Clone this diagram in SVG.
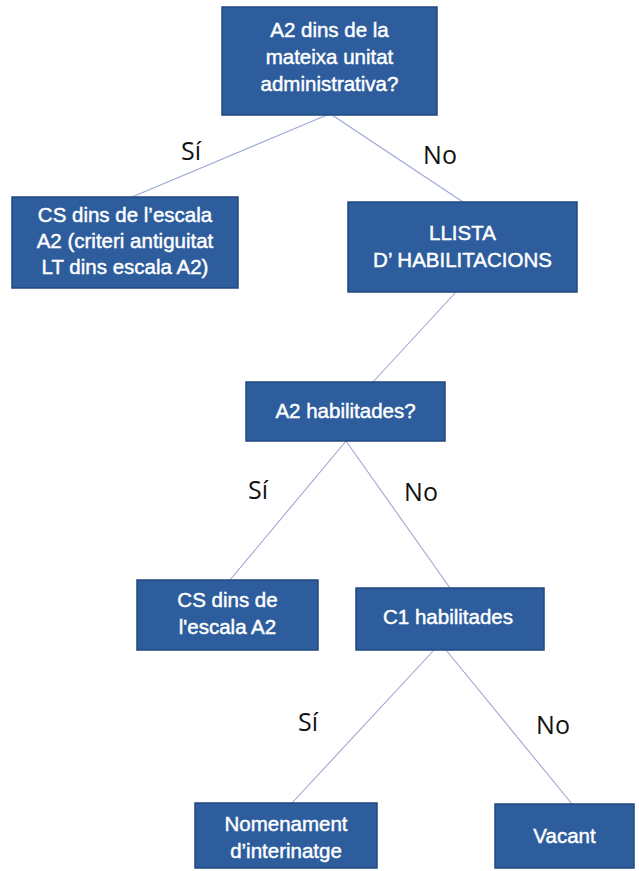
<svg xmlns="http://www.w3.org/2000/svg" width="639" height="871" viewBox="0 0 639 871">
<style>
.box{fill:#2d5d9d;stroke:#21487f;stroke-width:1.5}
.t{fill:#ffffff;stroke:#ffffff;stroke-width:0.45;font-family:"Liberation Sans",Arial,sans-serif;font-size:20.5px;text-anchor:middle}
.lbl{fill:#111111;font-family:"Open Sans","Liberation Sans",sans-serif;font-size:25px;text-anchor:middle}
.c{stroke:#9aa8d2;stroke-width:1.1;fill:none}
</style>
<rect width="639" height="871" fill="#ffffff"/>
<g id="connectors">
<line class="c" x1="327" y1="115" x2="132" y2="197"/>
<line class="c" x1="332" y1="115" x2="463" y2="202"/>
<line class="c" x1="456" y1="292" x2="373" y2="382"/>
<line class="c" x1="346" y1="441" x2="230" y2="580"/>
<line class="c" x1="346" y1="441" x2="450" y2="588"/>
<line class="c" x1="434" y1="650" x2="292" y2="803"/>
<line class="c" x1="446" y1="650" x2="572" y2="804"/>
</g>
<g id="labels">
<text class="lbl" x="191" y="160">Sí</text>
<text class="lbl" x="440" y="164">No</text>
<text class="lbl" x="258" y="499">Sí</text>
<text class="lbl" x="421" y="501">No</text>
<text class="lbl" x="308" y="731">Sí</text>
<text class="lbl" x="553" y="734">No</text>
</g>
<g id="n1">
<rect class="box" x="222" y="7" width="215" height="108"/>
<text class="t" x="329.5" y="37">A2 dins de la</text>
<text class="t" x="329.5" y="64">mateixa unitat</text>
<text class="t" x="329.5" y="91">administrativa?</text>
</g>
<g id="n2">
<rect class="box" x="12" y="197" width="226" height="91"/>
<text class="t" x="125" y="222">CS dins de l’escala</text>
<text class="t" x="125" y="248">A2 (criteri antiguitat</text>
<text class="t" x="125" y="274">LT dins escala A2)</text>
</g>
<g id="n3">
<rect class="box" x="348" y="202" width="229" height="90"/>
<text class="t" x="462.5" y="240">LLISTA</text>
<text class="t" x="462.5" y="267">D’ HABILITACIONS</text>
</g>
<g id="n4">
<rect class="box" x="246" y="382" width="199" height="59"/>
<text class="t" x="345.5" y="418">A2 habilitades?</text>
</g>
<g id="n5">
<rect class="box" x="137" y="580" width="181" height="70"/>
<text class="t" x="227.5" y="607">CS dins de</text>
<text class="t" x="227.5" y="634">l'escala A2</text>
</g>
<g id="n6">
<rect class="box" x="356" y="588" width="188" height="62"/>
<text class="t" x="448" y="624">C1 habilitades</text>
</g>
<g id="n7">
<rect class="box" x="195" y="803" width="182" height="65"/>
<text class="t" x="286" y="831">Nomenament</text>
<text class="t" x="286" y="858">d’interinatge</text>
</g>
<g id="n8">
<rect class="box" x="495" y="804" width="139" height="64"/>
<text class="t" x="564.5" y="843">Vacant</text>
</g>
</svg>
